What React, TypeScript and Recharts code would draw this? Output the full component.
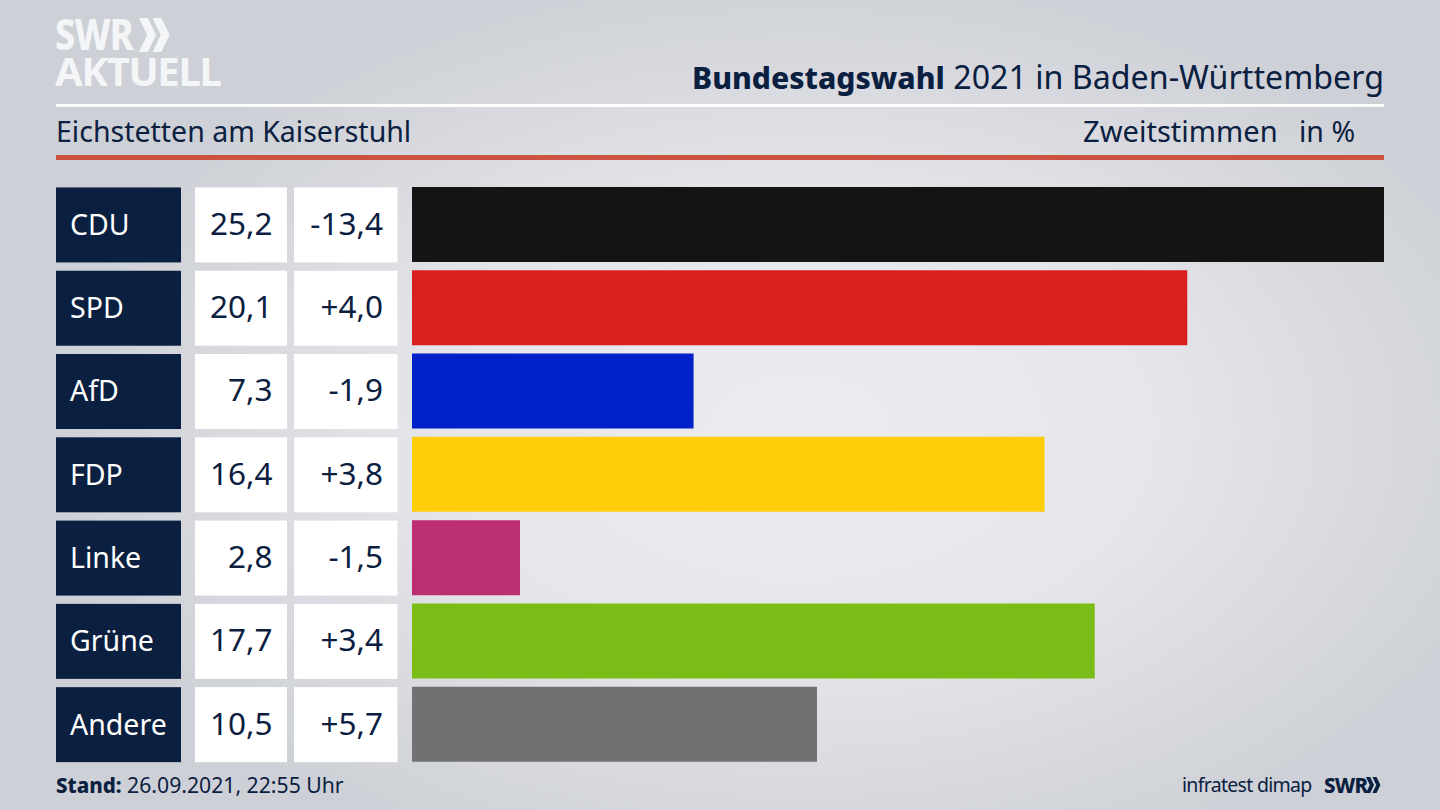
import React from "react";
import { BarChart, Bar, XAxis, YAxis, Cell } from "recharts";

const parties = ["CDU", "SPD", "AfD", "FDP", "Linke", "Grüne", "Andere"];
const shares = [25.2, 20.1, 7.3, 16.4, 2.8, 17.7, 10.5];
const shareLabels = ["25,2", "20,1", "7,3", "16,4", "2,8", "17,7", "10,5"];
const changeLabels = ["-13,4", "+4,0", "-1,9", "+3,8", "-1,5", "+3,4", "+5,7"];
const colors = ["#141414", "#da1f1f", "#0021c8", "#ffcd0a", "#bc2e72", "#7abd17", "#707173"];

const rows = parties.map((party, i) => ({
  party,
  share: shares[i],
  shareLabel: shareLabels[i],
  changeLabel: changeLabels[i],
}));

const NAVY = "#0b2040";
const FONT = '"Noto Sans", "Open Sans", sans-serif';

function RowTick(props: any) {
  const { y, index } = props;
  const top = y - 37.2;
  const cy = y + 10.2;
  return (
    <g fontFamily={FONT}>
      <rect x={56} y={top} width={125} height={75} fill={NAVY} />
      <rect x={195} y={top} width={92} height={75} fill="#ffffff" />
      <rect x={294} y={top} width={103.5} height={75} fill="#ffffff" />
      <text x={70} y={cy} fill="#ffffff" fontSize={28.5}>{parties[index]}</text>
      <text x={272.5} y={cy} fill={NAVY} textAnchor="end" fontSize={31.5}>{shareLabels[index]}</text>
      <text x={383} y={cy} fill={NAVY} textAnchor="end" fontSize={31.5}>{changeLabels[index]}</text>
    </g>
  );
}

function abs(left: number, top: number, extra: React.CSSProperties = {}): React.CSSProperties {
  return { position: "absolute", left, top, whiteSpace: "nowrap", ...extra };
}

function Chevrons({ x, y, h, color }: { x: number; y: number; h: number; color: string }) {
  const w = h * 0.5;
  const t = h * 0.26;
  const p = (o: number) =>
    `${o},0 ${o + t},0 ${o + w},${h / 2} ${o + t},${h} ${o},${h} ${o + w - t},${h / 2}`;
  return (
    <svg style={{ position: "absolute", left: x, top: y }} width={w * 2} height={h}>
      <polygon points={p(0)} fill={color} />
      <polygon points={p(w * 0.8)} fill={color} />
    </svg>
  );
}

export default function App() {
  return (
    <div
      style={{
        position: "absolute",
        left: 0,
        top: 0,
        width: 1440,
        height: 810,
        overflow: "hidden",
        fontFamily: FONT,
        color: NAVY,
        background:
          "radial-gradient(ellipse 760px 470px at 800px 430px, #ebecf0 0%, #e6e7eb 45%, #d6d8dd 80%, #cdd0d6 100%)",
      }}
    >
      <div style={abs(55, 18, { fontSize: 43, fontWeight: 800, color: "#f4f5f7", lineHeight: "32px", letterSpacing: -1, transform: "scaleX(0.84)", transformOrigin: "left center" })}>SWR</div>
      <Chevrons x={139} y={18} h={34} color="#f4f5f7" />
      <div style={abs(55, 55, { fontSize: 40, fontWeight: 700, color: "#f4f5f7", lineHeight: "32px", letterSpacing: -1.3 })}>AKTUELL</div>

      <div style={abs(0, 57, { left: "auto", right: 56, fontSize: 32.2, lineHeight: "40px" })}>
        <b style={{ fontWeight: 800, fontSize: 30.1 }}>Bundestagswahl</b> 2021 in Baden-Württemberg
      </div>
      <div style={abs(56, 104, { width: 1328, height: 3, background: "#ffffff" })} />
      <div style={abs(56, 112, { fontSize: 28.5, lineHeight: "38px" })}>Eichstetten am Kaiserstuhl</div>
      <div style={abs(1083, 112, { fontSize: 29.1, lineHeight: "38px" })}>Zweitstimmen</div>
      <div style={abs(1299, 112, { fontSize: 28.5, lineHeight: "38px" })}>in %</div>
      <div style={abs(56, 155, { width: 1328, height: 5, background: "#cc5340" })} />

      <div style={abs(0, 0)}>
        <BarChart
          width={1440}
          height={810}
          layout="vertical"
          data={rows}
          margin={{ top: 183, right: 56, bottom: 44, left: 0 }}
        >
          <XAxis type="number" domain={[0, 25.2]} hide />
          <YAxis
            type="category"
            dataKey="party"
            width={412}
            axisLine={false}
            tickLine={false}
            interval={0}
            tick={<RowTick />}
          />
          <Bar dataKey="share" barSize={75} isAnimationActive={false}>
            {rows.map((r, i) => (
              <Cell key={r.party} fill={colors[i]} />
            ))}
          </Bar>
        </BarChart>
      </div>

      <div style={abs(56, 770, { fontSize: 21.2, lineHeight: "30px" })}>
        <b style={{ fontWeight: 800, fontSize: 20.5 }}>Stand:</b> 26.09.2021, 22:55 Uhr
      </div>
      <div style={abs(1182, 770, { fontSize: 19.5, lineHeight: "30px", letterSpacing: -0.7 })}>infratest dimap</div>
      <div style={abs(1324, 771, { fontSize: 20.5, fontWeight: 800, lineHeight: "28px", letterSpacing: -0.8 })}>SWR</div>
      <Chevrons x={1366} y={777} h={16} color={NAVY} />
    </div>
  );
}
